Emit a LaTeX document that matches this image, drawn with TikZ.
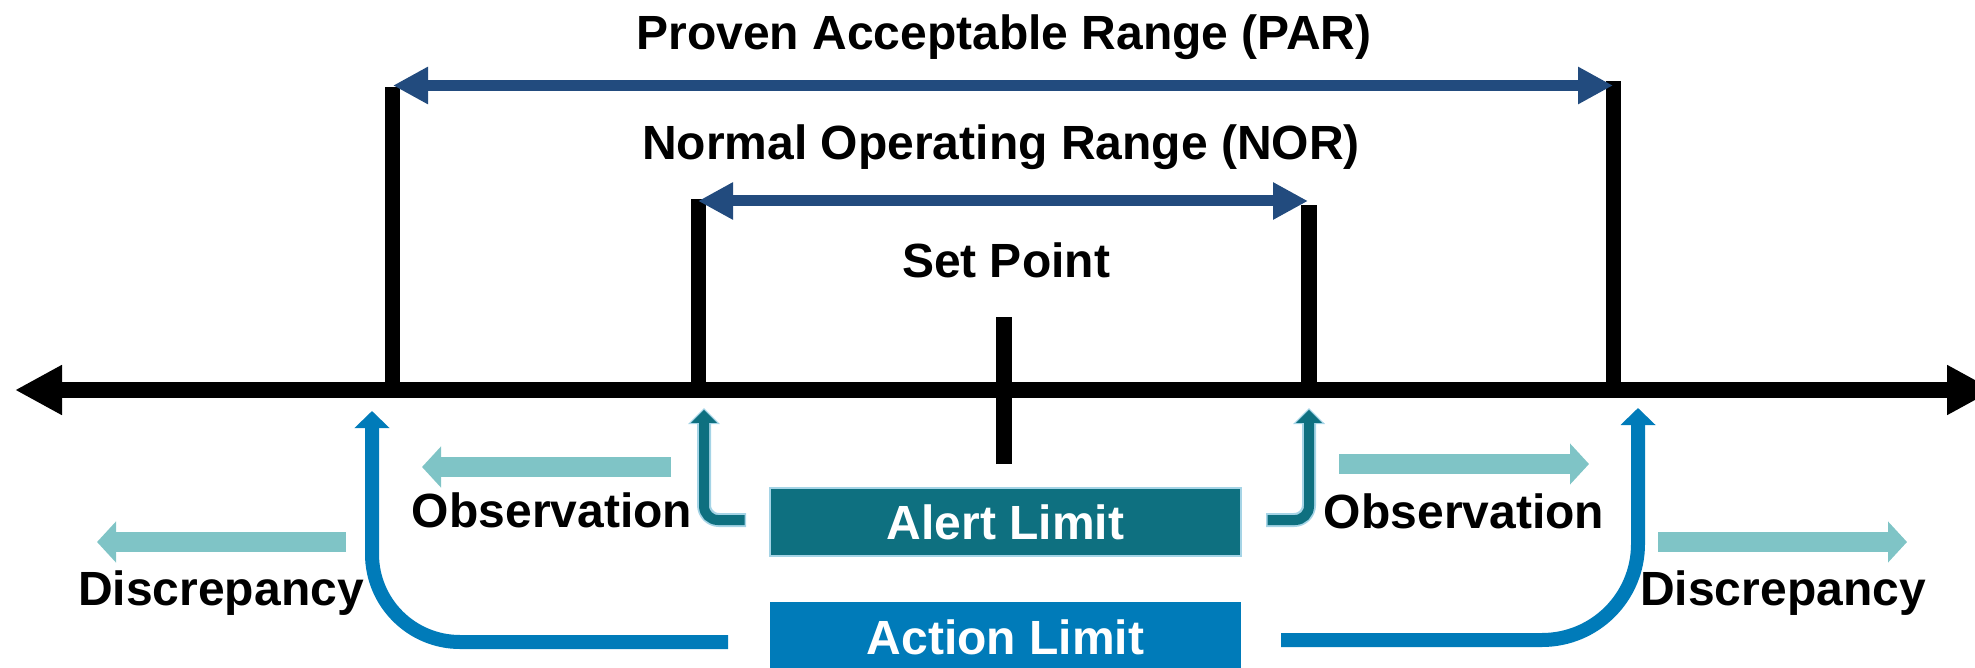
\documentclass[tikz,border=0pt]{standalone}
\usepackage{fontspec}
\setmainfont{Liberation Sans}
\usetikzlibrary{arrows.meta}

\definecolor{rangeblue}{RGB}{34,75,126}
\definecolor{alertteal}{RGB}{14,112,128}
\definecolor{alertedge}{RGB}{165,212,230}
\definecolor{actionblue}{RGB}{0,123,185}
\definecolor{lightteal}{RGB}{127,196,198}

\begin{document}
\begin{tikzpicture}[
  x=0.5pt, y=-0.5pt,
  label/.style={font=\fontsize{24}{28}\selectfont\bfseries, inner sep=0pt, anchor=base},
  axisline/.style={line width=8pt, {Triangle[length=23.5pt,width=23.5pt]}-{Triangle[length=23.5pt,width=23.5pt]}},
  limitbar/.style={line width=7.75pt},
  rangearrow/.style={draw=rangeblue, line width=5.5pt,
    {Triangle[length=17.5pt,width=17.5pt]}-{Triangle[length=17.5pt,width=17.5pt]}},
  blockarrow/.style={draw=lightteal, line width=10pt, -{Triangle[length=9.5pt,width=20pt]}},
  alertouter/.style={draw=alertedge, line width=7pt, rounded corners=7.5pt,
    -{Triangle[length=8pt,width=15.5pt]}},
  alertinner/.style={draw=alertteal, line width=5pt, rounded corners=7pt,
    shorten >=0.9pt, -{Triangle[length=6.5pt,width=12.5pt]}},
  actionarrow/.style={draw=actionblue, line width=7pt, -{Triangle[length=8.5pt,width=17pt]}},
  limitbox/.style={minimum width=235.5pt, minimum height=34pt, inner sep=0pt,
    text=white, font=\fontsize{24}{28}\selectfont\bfseries},
]
\clip (0,0) rectangle (1975,668);

% axis and its markers
\coordinate (axL) at (15,390);
\coordinate (axR) at (1994,390);
\draw[axisline] (axL) -- (axR);

\coordinate (parLtop) at (392.5,87);   \coordinate (parLbot) at (392.5,396);
\coordinate (parRtop) at (1613.5,81);  \coordinate (parRbot) at (1613.5,396);
\coordinate (norLtop) at (698.5,199);  \coordinate (norLbot) at (698.5,396);
\coordinate (norRtop) at (1309,205);   \coordinate (norRbot) at (1309,396);
\coordinate (spTop) at (1004,317);     \coordinate (spBot) at (1004,464);
\draw[limitbar] (parLbot) -- (parLtop);
\draw[limitbar] (parRbot) -- (parRtop);
\draw[limitbar] (norLbot) -- (norLtop);
\draw[limitbar] (norRbot) -- (norRtop);
\draw[limitbar] (spBot) -- (spTop);

% ranges
\coordinate (parA) at (393,85.5);  \coordinate (parB) at (1613,85.5);
\coordinate (norA) at (698,201);   \coordinate (norB) at (1308,201);
\draw[rangearrow] (parA) -- (parB);
\draw[rangearrow] (norA) -- (norB);

\node[label] (par) at (1004,50) {Proven Acceptable Range (PAR)};
\node[label] (nor) at (1001,160) {Normal Operating Range (NOR)};
\node[label] (sp) at (1006,278) {Set Point};

% limit boxes
\node[limitbox, fill=alertteal, draw=alertedge, line width=1pt] (alert) at (1005.5,522) {Alert Limit};
\node[limitbox, fill=actionblue, minimum height=35pt] (action) at (1005.5,637) {Action Limit};

% alert-limit arrows
\coordinate (alLs) at (746,520);  \coordinate (alLt) at (704,408);
\coordinate (alRs) at (1266,520); \coordinate (alRt) at (1309,408);
\coordinate (alLsi) at (744.5,520); \coordinate (alRsi) at (1267.5,520);
\draw[alertouter] (alLs) -| (alLt);
\draw[alertinner] (alLsi) -| (alLt);
\draw[alertouter] (alRs) -| (alRt);
\draw[alertinner] (alRsi) -| (alRt);

% action-limit arrows
\coordinate (acLs) at (728,642);  \coordinate (acLt) at (372,411);
\coordinate (acRs) at (1281,640); \coordinate (acRt) at (1638,408);
\draw[actionarrow, rounded corners=44pt] (acLs) -| (acLt);
\draw[actionarrow, rounded corners=48pt] (acRs) -| (acRt);

% observation and discrepancy arrows
\coordinate (obLs) at (671,467);  \coordinate (obLt) at (422,467);
\coordinate (obRs) at (1339,464); \coordinate (obRt) at (1589,464);
\coordinate (diLs) at (346,542);  \coordinate (diLt) at (97,542);
\coordinate (diRs) at (1658,542); \coordinate (diRt) at (1907,542);
\draw[blockarrow] (obLs) -- (obLt);
\draw[blockarrow] (obRs) -- (obRt);
\draw[blockarrow] (diLs) -- (diLt);
\draw[blockarrow] (diRs) -- (diRt);

\node[label] (obsL) at (552,527) {Observation};
\node[label] (obsR) at (1464,528) {Observation};
\node[label] (disL) at (221,605) {Discrepancy};
\node[label] (disR) at (1783,605) {Discrepancy};
\end{tikzpicture}
\end{document}
